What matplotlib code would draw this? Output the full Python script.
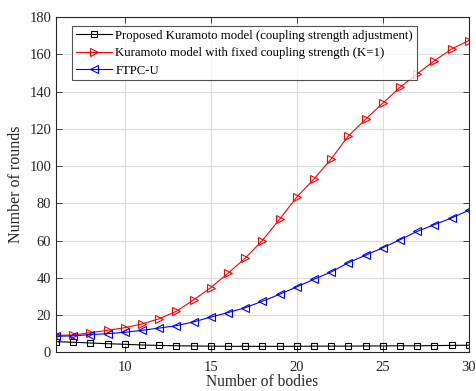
import matplotlib
matplotlib.use("Agg")
import matplotlib.pyplot as plt

plt.rcParams['font.family'] = ['Liberation Serif', 'DejaVu Serif']
plt.rcParams['mathtext.fontset'] = 'stix'

bodies = list(range(6, 31))
proposed = [5.7, 5.4, 5.0, 4.6, 4.3, 3.9, 3.7, 3.5, 3.4, 3.3, 3.2, 3.2, 3.2, 3.2, 3.2,
            3.3, 3.3, 3.3, 3.4, 3.4, 3.5, 3.5, 3.6, 3.7, 3.8]
fixed_k = [9.1, 9.3, 10.5, 11.8, 13.2, 15.2, 18.0, 22.0, 28.1, 34.7, 42.4, 50.5, 60.0,
           71.4, 83.3, 93.0, 103.8, 116.1, 125.1, 133.7, 142.2, 149.4, 156.5, 162.8, 167.3]
ftpc_u = [8.6, 8.8, 9.5, 10.0, 10.7, 11.8, 13.0, 14.3, 16.3, 18.9, 21.3, 23.9, 27.4,
          31.1, 35.1, 39.2, 43.1, 48.1, 52.1, 56.1, 60.4, 64.9, 68.5, 72.1, 76.2]

labels = ['Proposed Kuramoto model (coupling strength adjustment)',
          'Kuramoto model with fixed coupling strength (K=1)',
          'FTPC-U']

fig = plt.figure(figsize=(4.76, 3.91), dpi=100)
ax = fig.add_axes([0.1176, 0.099, 0.8671, 0.8575])

lw = 0.8
ax.plot(bodies, proposed, color='black', lw=lw, marker='s', ms=3.8,
        mfc='none', mew=0.8, label=labels[0])
ax.plot(bodies, fixed_k, color='red', lw=lw, marker='>', ms=6,
        mfc='none', mew=0.8, label=labels[1])
ax.plot(bodies, ftpc_u, color='blue', lw=lw, marker='<', ms=6,
        mfc='none', mew=0.8, label=labels[2])

ax.set_xlim(6, 30)
ax.set_ylim(0, 180)
ax.set_xticks([10, 15, 20, 25, 30])
ax.set_yticks(range(0, 181, 20))
ax.grid(True, color='#dcdcdc', lw=0.8)
ax.set_axisbelow(True)
for s in ax.spines.values():
    s.set_color('#262626')
    s.set_linewidth(0.8)
ax.tick_params(direction='in', top=True, right=True, labelsize=10.5,
               colors='#262626', length=4, width=0.6)
ax.tick_params(axis='x', pad=6)
ax.set_xlabel('Number of bodies', fontsize=11.2, color='#262626', labelpad=0.5)
ax.set_ylabel('Number of rounds', fontsize=11.5, color='#262626', labelpad=4)

leg = ax.legend(loc='upper left', bbox_to_anchor=(0.04, 0.973), fontsize=9.2,
                frameon=True, fancybox=False, edgecolor='#262626',
                handlelength=2.8, handletextpad=0.25, borderpad=0.3,
                labelspacing=0.42, borderaxespad=0)
leg.get_frame().set_linewidth(0.8)

fig.savefig('out.png', dpi=100)
